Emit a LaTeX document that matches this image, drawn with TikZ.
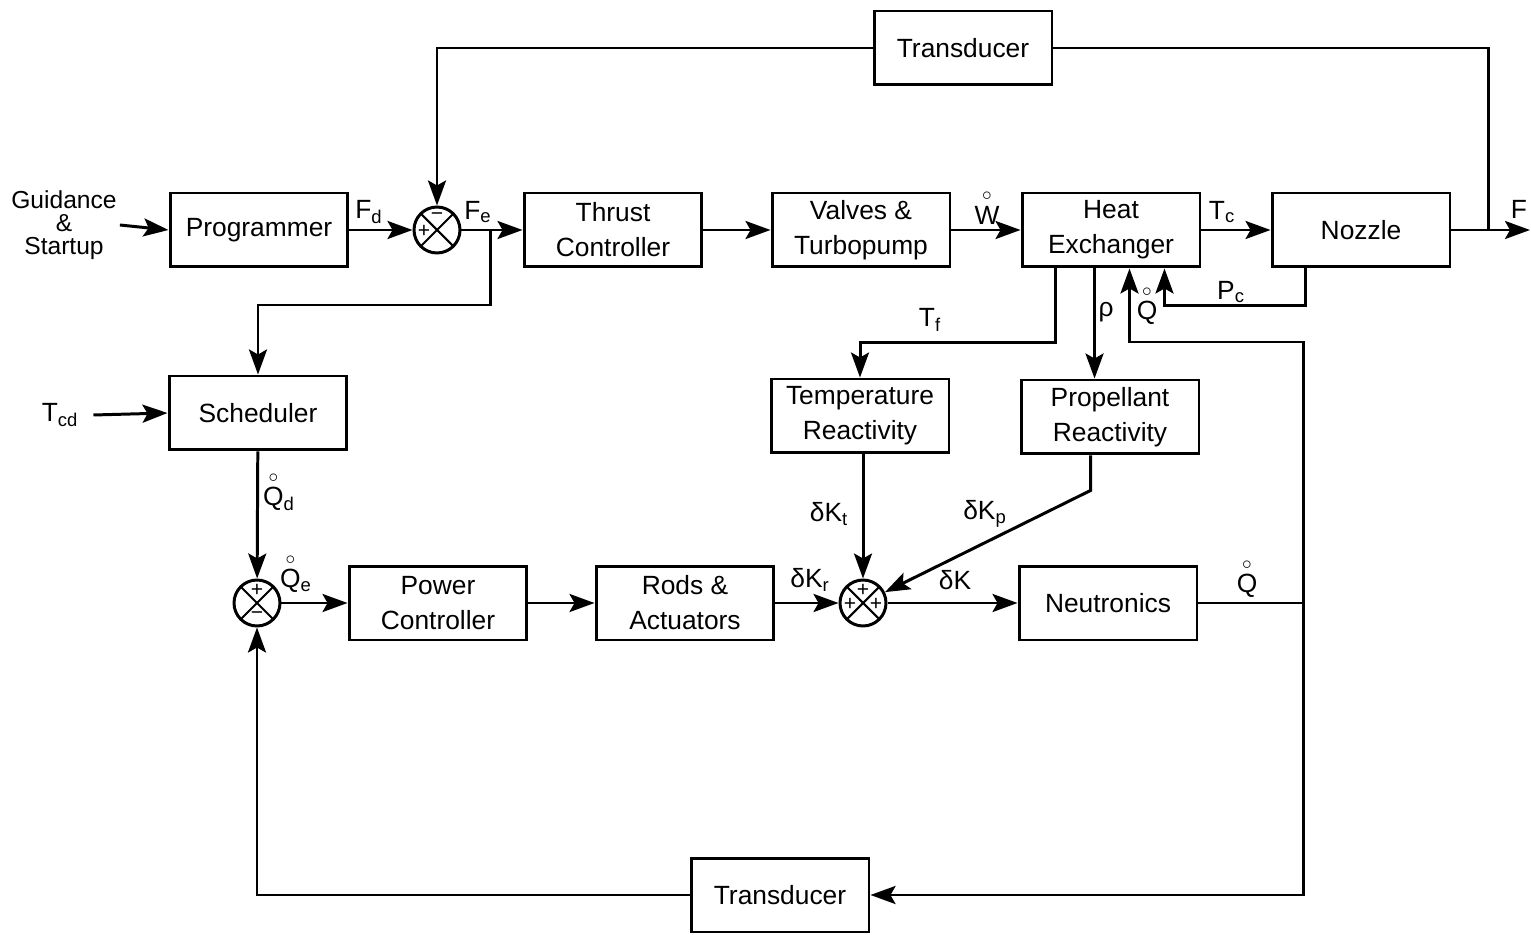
\documentclass[tikz,border=0pt]{standalone}
\usepackage{amsmath}
\usepackage{fontspec}
\setmainfont{Liberation Sans}
\usetikzlibrary{arrows.meta,calc}
\tikzset{
  >={Stealth[length=5mm,width=3.6mm,inset=1mm]},
  blk/.style={draw,rectangle,minimum width=3.56cm,minimum height=1.48cm,align=center,font=\fontsize{15}{20}\selectfont},
  sj/.style={circle,draw,minimum size=0.92cm,inner sep=0pt,
    path picture={\draw[line width=1.2pt] (path picture bounding box.north west)--(path picture bounding box.south east)
      (path picture bounding box.north east)--(path picture bounding box.south west);}},
  lb/.style={font=\fontsize{15}{18}\selectfont,inner sep=1pt},
  sg/.style={font=\fontsize{12}{12}\selectfont,inner sep=0pt},
  every picture/.style={line width=1.7pt},
}
\newcommand{\ringd}[1]{$\overset{\circ}{\text{#1}}$}

\begin{document}
\begin{tikzpicture}[x=0.02cm,y=-0.02cm]
\useasboundingbox (0,0) rectangle (1531,935);
% forward path
\node[blk] (td1) at (963,48){Transducer};
\node[blk] (pg) at (259,230){Programmer}; \node[sj] (s1) at (437,230){};
\node[blk] (tc) at (613,230){Thrust\\Controller}; \node[blk] (vt) at (861,230){Valves \&\\Turbopump};
\node[blk] (hx) at (1111,230){Heat\\Exchanger}; \node[blk] (nz) at (1361,230){Nozzle};
\node[blk] (sc) at (258,413){Scheduler};
\node[blk] (tr) at (860,416){Temperature\\Reactivity}; \node[blk] (pr) at (1110,417){Propellant\\Reactivity};
\node[sj] (s2) at (257,603){}; \node[blk] (pw) at (438,603){Power\\Controller};
\node[blk] (ra) at (685,603){Rods \&\\Actuators}; \node[sj] (s3) at (863,603){};
\node[blk] (nt) at (1108,603){Neutronics};
\node[blk] (td2) at (780,895){Transducer};
\node[align=center,font=\fontsize{14}{13}\selectfont,inner sep=1pt] (gd) at (64,225){Guidance\\\&\\Startup};
\node[lb] (tcd) at (60,415){T\textsubscript{cd}};
% signs
\node[sg] at ($(s1)+(0,-13)$){−}; \node[sg] at ($(s1)+(-13,1)$){+};
\node[sg] at ($(s2)+(0,-13)$){+}; \node[sg] at ($(s2)+(0,13)$){−};
\node[sg] at ($(s3)+(0,-13)$){+}; \node[sg] at ($(s3)+(-13,1)$){+}; \node[sg] at ($(s3)+(13,1)$){+};
\coordinate (fo) at (1530,230); \coordinate (fb) at (1488,230);
\coordinate (fe) at (490,230); \coordinate (qn) at (1303,603);
% connectors
\draw[->] (gd.east) -- (pg.west); \draw[->] (pg) -- (s1); \draw[->] (s1) -- (tc);
\draw[->] (tc) -- (vt); \draw[->] (vt) -- (hx); \draw[->] (hx) -- (nz); \draw[->] (nz) -- (fo);
\draw (fb) |- (td1.east); \draw[->] (td1.west) -| (s1.north);
\draw[->] (fe) -- ++(0,75) -| (sc.north);
\draw[->] ($(tcd.east)+(12,0)$) -- (sc.west);
\draw[->] ($(nz.south west)+(35,0)$) -- ++(0,37) -| ($(hx.south east)+(-37,0)$);
\draw[->] ($(hx.south west)+(35,0)$) -- ++(0,74) -| (tr.north);
\draw[->] ($(hx.south west)+(74,0)$) -- ($(pr.north west)+(75,0)$);
\draw[->] (sc) -- (s2); \draw[->] (s2) -- (pw); \draw[->] (pw) -- (ra); \draw[->] (ra) -- (s3);
\draw[->] (tr.south -| s3.north) -- (s3.north);
\draw[->] ($(pr.south west)+(71,0)$) -- ++(0,35) -- (s3);
\draw[->] (s3) -- (nt); \draw (nt) -- (qn);
\draw[->] (qn) -- ++(0,-261) -| ($(hx.south east)+(-72,0)$);
\draw[->] (qn) |- (td2.east); \draw[->] (td2.west) -| (s2.south);
% signal labels
\node[lb] at (369,212){F\textsubscript{d}}; \node[lb] at (478,212){F\textsubscript{e}};
\node[lb] at (987,207){\ringd{W}}; \node[lb] at (1222,212){T\textsubscript{c}};
\node[lb] at (1519,209){F}; \node[lb] at (1231,292){P\textsubscript{c}};
\node[lb] at (930,320){T\textsubscript{f}}; \node[lb] at (1106,312){ρ};
\node[lb] at (1147,305){\ringd{Q}};
\node[lb] at (279,491){\ringd{Q}\textsubscript{d}}; \node[lb] at (296,573){\ringd{Q}\textsubscript{e}};
\node[lb] at (829,514){δK\textsubscript{t}}; \node[lb] at (985,514){δK\textsubscript{p}};
\node[lb] at (810,580){δK\textsubscript{r}}; \node[lb] at (955,580){δK};
\node[lb] at (1247,578){\ringd{Q}};
\end{tikzpicture}
\end{document}
